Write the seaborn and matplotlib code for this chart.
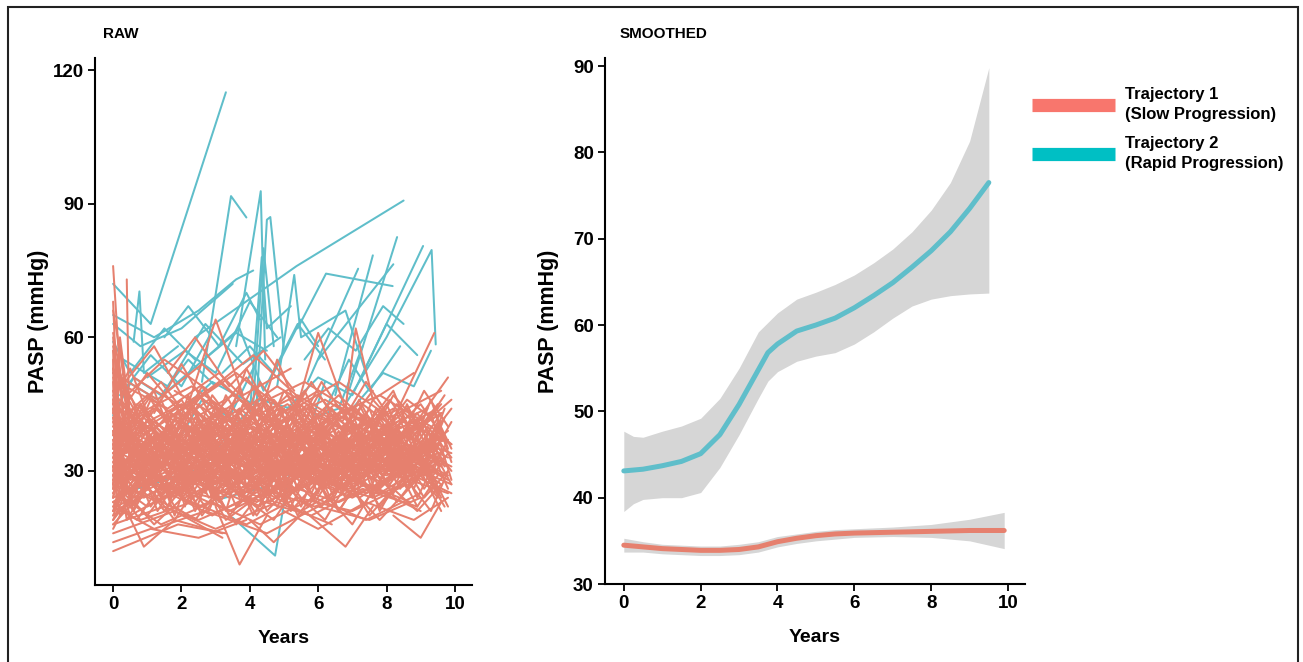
import pandas as pd
import seaborn as sns
import matplotlib
matplotlib.use("Agg")
import matplotlib.pyplot as plt
from matplotlib.lines import Line2D
from matplotlib.patches import Rectangle

# --- raw trajectories (years, PASP) ---
slow_patients = [
    [(0, 76), (0.3, 40), (1.2, 33), (2.5, 38), (4.1, 30)],
    [(0, 68), (0.2, 30), (1.5, 26), (3.0, 34), (4.6, 29), (6.2, 36)],
    [(0.4, 73), (0.5, 28), (1.8, 31), (3.2, 27)],
    [(0, 61), (0.6, 35), (2.1, 40), (3.8, 33), (5.5, 38), (7.2, 31)],
    [(0, 55), (0.1, 22), (1.3, 27), (2.9, 24), (4.4, 31), (6.0, 28), (7.9, 33)],
    [(0, 48), (0.9, 38), (2.2, 45), (3.6, 36), (5.1, 42), (6.8, 35), (8.4, 40)],
    [(0, 42), (1.1, 30), (2.4, 36), (4.0, 29), (5.7, 34), (7.4, 30), (9.1, 37)],
    [(0, 38), (0.7, 45), (2.0, 33), (3.3, 39), (4.9, 31), (6.5, 37), (8.1, 32), (9.6, 38)],
    [(0, 35), (1.4, 25), (2.8, 30), (4.2, 22), (5.9, 28), (7.6, 24), (9.3, 30)],
    [(0, 32), (0.5, 20), (1.9, 26), (3.4, 21), (5.0, 27), (6.6, 23), (8.3, 29), (9.8, 25)],
    [(0, 29), (1.0, 36), (2.6, 28), (4.3, 35), (6.1, 30), (7.8, 37), (9.5, 33)],
    [(0, 27), (0.8, 19), (2.3, 23), (3.9, 18), (5.4, 24), (7.0, 21), (8.6, 27)],
    [(0, 24), (1.6, 30), (3.1, 25), (4.7, 32), (6.3, 27), (8.0, 33), (9.7, 29)],
    [(0, 22), (1.2, 17), (2.7, 21), (4.5, 16), (6.0, 22), (7.5, 19), (9.0, 24)],
    [(0, 20), (0.9, 25), (2.5, 19), (4.0, 24), (5.8, 20), (7.3, 26), (8.9, 22)],
    [(0, 18), (1.5, 22), (3.0, 17), (4.8, 23), (6.4, 18)],
    [(0, 16), (1.8, 21), (3.2, 15)],
    [(0, 12), (1.9, 18), (3.3, 16)],
    [(0, 45), (0.2, 58), (0.6, 30), (1.7, 37), (3.0, 32)],
    [(0, 58), (0.3, 44), (1.0, 52), (2.2, 41), (3.5, 47), (5.0, 40)],
    [(0, 52), (1.3, 46), (2.6, 54), (4.0, 44), (5.6, 50), (7.1, 43)],
    [(0, 44), (0.4, 36), (1.7, 42), (3.1, 50), (4.6, 40), (6.2, 46), (7.7, 39), (9.2, 44)],
    [(0, 40), (1.0, 47), (2.4, 39), (3.7, 46), (5.3, 37), (6.9, 44), (8.5, 38)],
    [(0, 37), (0.6, 28), (2.0, 35), (3.5, 27), (5.1, 33), (6.7, 28), (8.2, 35), (9.8, 31)],
    [(0, 34), (1.2, 41), (2.7, 33), (4.1, 40), (5.6, 31), (7.2, 38), (8.8, 33)],
    [(0, 31), (0.9, 24), (2.3, 30), (3.8, 25), (5.3, 31), (6.9, 26), (8.4, 32), (9.9, 27)],
    [(0, 28), (1.5, 34), (3.0, 26), (4.4, 33), (6.0, 27), (7.5, 34), (9.1, 29)],
    [(0, 26), (0.7, 31), (2.1, 24), (3.6, 30), (5.2, 25), (6.8, 31), (8.3, 26), (9.7, 33)],
    [(0, 23), (1.1, 28), (2.5, 22), (4.0, 27), (5.5, 21), (7.1, 28), (8.7, 23)],
    [(0, 21), (1.4, 26), (2.9, 20), (4.4, 26), (5.9, 22), (7.4, 27), (9.0, 21)],
    [(0.1, 50), (1.6, 44), (3.1, 52), (4.5, 41), (6.0, 48)],
    [(0.2, 46), (1.0, 40), (2.5, 47), (3.9, 38), (5.4, 45), (6.9, 39), (8.4, 44)],
    [(0.3, 39), (1.7, 33), (3.2, 40), (4.7, 34), (6.2, 41), (7.8, 36), (9.3, 42)],
    [(0.1, 33), (1.3, 38), (2.8, 31), (4.3, 37), (5.8, 32), (7.3, 38), (8.9, 34), (9.8, 39)],
    [(0.2, 30), (1.8, 35), (3.3, 29), (4.8, 36), (6.3, 30), (7.9, 35), (9.4, 30)],
    [(0.1, 27), (1.0, 22), (2.4, 28), (3.9, 23), (5.4, 29), (7.0, 24), (8.5, 30), (9.9, 25)],
    [(0.3, 25), (1.9, 30), (3.4, 24), (5.0, 31), (6.5, 26), (8.1, 32)],
    [(0.2, 35), (0.8, 43), (2.2, 36), (3.7, 44), (5.2, 35), (6.7, 42), (8.2, 36), (9.6, 43)],
    [(0, 36), (1.1, 32), (2.6, 38), (4.1, 33), (5.7, 39), (7.3, 34), (8.8, 40)],
    [(0, 33), (1.7, 28), (3.2, 34), (4.8, 29), (6.4, 35), (8.0, 30), (9.5, 36)],
    [(0, 30), (0.6, 37), (2.0, 30), (3.5, 37), (5.0, 30), (6.6, 38), (8.1, 31), (9.7, 37)],
    [(0, 28), (1.3, 23), (2.8, 29), (4.3, 24), (5.8, 30), (7.4, 25), (8.9, 31)],
    [(0, 25), (0.5, 32), (1.9, 26), (3.4, 33), (4.9, 27), (6.5, 33), (8.0, 28), (9.5, 34)],
    [(0, 34), (0.9, 29), (2.3, 36), (3.8, 31), (5.3, 38), (6.8, 32), (8.3, 39), (9.8, 33)],
    [(0, 41), (1.5, 35), (3.0, 43), (4.5, 36), (6.0, 42), (7.6, 37), (9.1, 42)],
    [(0, 47), (0.5, 39), (2.0, 45), (3.5, 38), (5.1, 45), (6.6, 37), (8.2, 44)],
    [(0, 53), (0.8, 43), (2.3, 49), (3.8, 41), (5.4, 47), (6.9, 40)],
    [(0, 39), (1.2, 44), (2.7, 37), (4.2, 43), (5.7, 36), (7.2, 42), (8.7, 37), (9.6, 45)],
    [(0, 31), (1.6, 37), (3.1, 32), (4.6, 38), (6.1, 33), (7.7, 39), (9.2, 34)],
    [(0, 29), (0.7, 25), (2.2, 32), (3.7, 26), (5.2, 33), (6.7, 27), (8.3, 34), (9.8, 28)],
    [(1.0, 29), (2.5, 35), (4.0, 28), (5.5, 35), (7.0, 30), (8.6, 36), (9.9, 31)],
    [(1.5, 38), (3.0, 31), (4.5, 39), (6.0, 33), (7.5, 40), (9.0, 34)],
    [(2.0, 27), (3.5, 34), (5.0, 28), (6.5, 34), (8.0, 29), (9.5, 35)],
    [(2.5, 41), (4.0, 34), (5.5, 42), (7.0, 35), (8.5, 41), (9.9, 36)],
    [(3.0, 30), (4.5, 25), (6.0, 32), (7.5, 26), (9.0, 33)],
    [(3.5, 44), (5.0, 36), (6.5, 45), (8.0, 38), (9.5, 44)],
    [(4.0, 26), (5.5, 33), (7.0, 27), (8.5, 34), (9.8, 29)],
    [(0.5, 42), (2.0, 35), (3.5, 42), (5.0, 35), (6.5, 43), (8.0, 36), (9.4, 42)],
    [(1.2, 23), (2.7, 29), (4.2, 23), (5.7, 30), (7.2, 24), (8.7, 31)],
    [(0.8, 34), (2.3, 29), (3.8, 36), (5.3, 30), (6.8, 37), (8.3, 31), (9.7, 38)],
    [(0, 57), (0.4, 47), (1.5, 55), (2.8, 48), (4.1, 56), (5.5, 46)],
    [(0.6, 51), (2.1, 44), (3.6, 52), (5.1, 43), (6.6, 50), (8.1, 42), (9.6, 48)],
    [(1.8, 48), (3.3, 41), (4.8, 49), (6.3, 42), (7.8, 47), (9.3, 40)],
    [(2.2, 45), (3.0, 64), (3.8, 47), (5.2, 53)],
    [(5.3, 42), (6.0, 61), (6.8, 44), (7.1, 62), (7.6, 46), (8.8, 52)],
    [(8.1, 40), (9.4, 61)],
    [(8.6, 38), (9.8, 51)],
    [(3.0, 22), (3.7, 9), (4.5, 20)],
    [(4.0, 19), (4.7, 14), (5.6, 21), (6.8, 13), (7.6, 22)],
    [(8.2, 20), (9.0, 15), (9.6, 23)],
    [(0.4, 21), (0.9, 13), (1.8, 19), (3.2, 16)],
    [(0, 14), (1.1, 17), (2.5, 15), (3.9, 19)],
    [(5.0, 21), (6.0, 17), (7.4, 23), (8.8, 19), (9.8, 24)],
    [(0, 19), (0.3, 24), (1.4, 18), (2.9, 23), (4.3, 18), (5.9, 24), (7.4, 19), (9.0, 25)],
    [(0.1, 37), (0.2, 60), (0.5, 42), (1.4, 50), (2.6, 38)],
    [(0, 43), (0.15, 56), (0.4, 34), (1.1, 46), (2.0, 36)],
    [(0.05, 49), (0.25, 31), (1.3, 38), (2.4, 32)],
    [(0, 26), (0.1, 46), (0.7, 33), (1.9, 42), (3.0, 34)],
    [(4.2, 40), (4.8, 55), (5.6, 40), (6.6, 47), (7.7, 39)],
    [(6.4, 34), (7.2, 46), (8.0, 34), (8.9, 43), (9.7, 33)],
    [(7.0, 28), (7.9, 40), (8.7, 29), (9.5, 41), (9.9, 32)],
    [(6.0, 39), (6.9, 30), (7.8, 42), (8.6, 32), (9.3, 46), (9.8, 35)],
    [(1.2, 43), (2.0, 54), (2.9, 42), (3.9, 51), (4.9, 41)],
    [(3.3, 37), (4.1, 49), (4.9, 38), (5.8, 50), (6.7, 39), (7.6, 48)],
    [(0.3, 28), (1.4, 34), (2.6, 28), (3.9, 35), (5.3, 29), (6.8, 35), (8.1, 30), (9.6, 36)],
    [(0, 23), (1.0, 29), (2.3, 24), (3.6, 30), (5.0, 24), (6.4, 31), (7.8, 25), (9.3, 32)],
    [(0.2, 40), (1.5, 31), (2.9, 39), (4.3, 32), (5.8, 40), (7.3, 32), (8.8, 40)],
    [(0, 45), (1.4, 38), (2.8, 46), (4.2, 37), (5.6, 44)],
    [(2.2, 33), (3.0, 40), (4.1, 31), (5.4, 39), (6.9, 33), (8.4, 38), (9.9, 34)],
    [(1.7, 26), (2.9, 32), (4.3, 27), (5.7, 33), (7.1, 28), (8.5, 33), (9.6, 27)],
    [(9.0, 30), (9.7, 44)],
    [(8.9, 42), (9.8, 26)],
    [(0, 66), (0.35, 50), (1.2, 58), (2.0, 47)],
    [(1.6, 52), (2.4, 60), (3.4, 49), (4.4, 57), (5.3, 48)],
    # patients with frequent echo follow-up
    [(0, 30), (0.4, 44), (0.9, 26), (1.5, 39), (2.1, 22), (2.8, 36), (3.4, 27), (4.0, 41), (4.7, 25), (5.3, 37)],
    [(0, 41), (0.5, 24), (1.1, 35), (1.8, 20), (2.4, 33), (3.0, 45), (3.7, 28), (4.3, 38), (5.0, 23), (5.6, 34), (6.3, 42)],
    [(0, 24), (0.3, 38), (1.0, 43), (1.6, 29), (2.3, 40), (2.9, 25), (3.6, 34), (4.2, 46), (4.9, 31), (5.5, 22), (6.2, 35), (6.9, 28)],
    [(0, 36), (0.6, 21), (1.3, 31), (1.9, 44), (2.6, 30), (3.3, 21), (3.9, 36), (4.6, 28), (5.2, 43), (5.9, 30), (6.6, 39), (7.2, 26), (7.9, 37)],
    [(0, 20), (0.7, 33), (1.4, 24), (2.0, 37), (2.7, 42), (3.4, 30), (4.1, 25), (4.8, 35), (5.5, 29), (6.2, 44), (6.9, 32), (7.6, 24), (8.3, 36)],
    [(0, 44), (0.2, 30), (0.8, 37), (1.5, 31), (2.2, 47), (2.9, 35), (3.6, 39), (4.3, 24), (5.0, 32), (5.7, 38), (6.4, 27), (7.1, 40), (7.8, 33), (8.5, 42)],
    [(0, 33), (0.5, 47), (1.2, 34), (1.9, 27), (2.6, 38), (3.3, 44), (4.0, 31), (4.7, 40), (5.4, 26), (6.1, 36), (6.8, 45), (7.5, 30), (8.2, 38), (8.9, 28), (9.6, 41)],
    [(0.1, 26), (0.8, 40), (1.5, 33), (2.2, 26), (2.9, 42), (3.6, 35), (4.3, 30), (5.0, 44), (5.7, 36), (6.4, 23), (7.1, 34), (7.8, 41), (8.5, 29), (9.2, 37), (9.9, 30)],
    [(0, 39), (0.4, 19), (1.1, 28), (1.8, 35), (2.5, 24), (3.2, 31), (3.9, 42), (4.6, 33), (5.3, 25), (6.0, 37), (6.7, 31), (7.4, 43), (8.1, 35), (8.8, 26), (9.5, 39)],
    [(0, 51), (0.3, 36), (1.0, 29), (1.7, 43), (2.4, 36), (3.1, 28), (3.8, 39), (4.5, 47), (5.2, 34), (5.9, 41), (6.6, 29), (7.3, 36), (8.0, 45), (8.7, 33), (9.4, 38)],
    [(0, 28), (0.6, 35), (1.3, 21), (2.0, 30), (2.7, 25), (3.4, 37), (4.1, 29), (4.8, 22), (5.5, 31), (6.2, 26), (6.9, 35), (7.6, 28), (8.3, 40), (9.0, 31), (9.7, 22)],
    [(0, 35), (0.2, 52), (0.7, 38), (1.4, 46), (2.1, 34), (2.8, 41), (3.5, 33), (4.2, 45), (4.9, 38), (5.6, 48), (6.3, 37), (7.0, 32), (7.7, 44), (8.4, 37), (9.1, 48), (9.8, 40)],
    [(0, 22), (0.5, 29), (1.2, 38), (1.9, 31), (2.6, 20), (3.3, 27), (4.0, 35), (4.7, 26), (5.4, 40), (6.1, 33), (6.8, 24), (7.5, 31), (8.2, 25), (8.9, 34), (9.6, 29)],
    [(0, 46), (0.4, 28), (1.0, 35), (1.6, 40), (2.3, 29), (3.0, 36), (3.7, 24), (4.4, 33), (5.1, 38), (5.8, 27), (6.5, 33), (7.2, 38), (7.9, 31), (8.6, 45), (9.3, 33), (9.9, 41)],
    [(0, 31), (0.9, 42), (1.6, 36), (2.3, 45), (3.0, 38), (3.7, 48), (4.4, 37), (5.1, 29), (5.8, 35), (6.5, 41), (7.2, 45), (7.9, 34), (8.6, 39), (9.3, 30)],
    [(0, 37), (0.3, 25), (1.0, 20), (1.7, 27), (2.4, 32), (3.1, 23), (3.8, 29), (4.5, 36), (5.2, 21), (5.9, 27), (6.6, 33), (7.3, 22), (8.0, 30), (8.7, 38), (9.4, 27)],
    [(0, 60), (0.2, 41), (0.6, 33), (1.3, 40), (2.0, 46), (2.7, 37), (3.4, 31), (4.1, 39), (4.8, 44), (5.5, 36), (6.2, 30), (6.9, 40), (7.6, 35), (8.3, 45), (9.0, 39), (9.7, 47)],
    [(0, 17), (0.6, 26), (1.3, 32), (2.0, 25), (2.7, 30), (3.4, 20), (4.1, 26), (4.8, 31), (5.5, 24), (6.2, 19), (6.9, 28), (7.6, 33), (8.3, 23), (9.0, 29), (9.7, 35)],
    [(0, 48), (0.5, 33), (1.2, 45), (1.9, 39), (2.6, 49), (3.3, 41), (4.0, 35), (4.7, 46), (5.4, 40), (6.1, 50), (6.8, 42), (7.5, 37), (8.2, 47), (8.9, 41)],
    [(0, 27), (0.3, 43), (0.9, 31), (1.6, 22), (2.3, 35), (3.0, 30), (3.7, 41), (4.4, 27), (5.1, 32), (5.8, 44), (6.5, 28), (7.2, 35), (7.9, 27), (8.6, 33), (9.3, 43), (9.9, 28)],
    [(0.2, 33), (0.9, 25), (1.6, 41), (2.3, 31), (3.0, 27), (3.7, 38), (4.4, 45), (5.1, 33), (5.8, 25), (6.5, 36), (7.2, 29), (7.9, 39), (8.6, 44), (9.3, 36)],
    [(0, 40), (0.7, 31), (1.4, 37), (2.1, 27), (2.8, 34), (3.5, 40), (4.2, 35), (4.9, 26), (5.6, 39), (6.3, 34), (7.0, 43), (7.7, 29), (8.4, 35), (9.1, 26), (9.8, 34)],
    [(0, 53), (0.2, 37), (0.8, 45), (1.5, 35), (2.2, 29), (2.9, 43), (3.6, 37), (4.3, 50), (5.0, 42), (5.7, 33), (6.4, 44), (7.1, 37), (7.8, 30), (8.5, 39), (9.2, 35)],
    [(0, 29), (0.4, 22), (1.1, 33), (1.8, 28), (2.5, 38), (3.2, 33), (3.9, 23), (4.6, 30), (5.3, 36), (6.0, 25), (6.7, 38), (7.4, 33), (8.1, 27), (8.8, 35), (9.5, 25)],
    [(0, 43), (0.6, 38), (1.3, 28), (2.0, 41), (2.7, 48), (3.4, 36), (4.1, 43), (4.8, 30), (5.5, 45), (6.2, 38), (6.9, 34), (7.6, 46), (8.3, 40), (9.0, 45), (9.7, 37)],
    [(0, 25), (0.8, 36), (1.5, 28), (2.2, 23), (2.9, 28), (3.6, 39), (4.3, 34), (5.0, 27), (5.7, 22), (6.4, 30), (7.1, 37), (7.8, 26), (8.5, 31), (9.2, 40), (9.9, 33)],
    [(0, 57), (0.1, 33), (0.5, 27), (1.2, 34), (1.9, 43), (2.6, 33), (3.3, 47), (4.0, 38), (4.7, 34), (5.4, 41), (6.1, 35), (6.8, 26), (7.5, 42), (8.2, 32), (8.9, 36), (9.6, 31)],
    [(0, 34), (0.5, 40), (1.2, 48), (1.9, 34), (2.6, 27), (3.3, 35), (4.0, 31), (4.7, 38), (5.4, 46), (6.1, 27), (6.8, 34), (7.5, 41), (8.2, 48), (8.9, 35), (9.6, 43)],
    [(0, 21), (0.4, 31), (1.0, 27), (1.7, 35), (2.4, 21), (3.1, 34), (3.8, 27), (4.5, 38), (5.2, 29), (5.9, 35), (6.6, 21), (7.3, 29), (8.0, 36), (8.7, 27), (9.4, 33)],
    [(0, 38), (0.3, 48), (0.9, 40), (1.6, 33), (2.3, 44), (3.0, 35), (3.7, 31), (4.4, 42), (5.1, 47), (5.8, 37), (6.5, 42), (7.2, 33), (7.9, 39), (8.6, 46), (9.3, 42), (9.9, 46)],
    [(0, 31), (0.2, 20), (0.8, 24), (1.5, 36), (2.2, 28), (2.9, 33), (3.6, 25), (4.3, 22), (5.0, 34), (5.7, 28), (6.4, 37), (7.1, 31), (7.8, 22), (8.5, 28), (9.2, 31), (9.8, 22)],
    [(0, 46), (0.5, 53), (1.1, 41), (1.8, 36), (2.5, 45), (3.2, 38), (3.9, 53), (4.6, 43), (5.3, 37), (6.0, 47), (6.7, 41), (7.4, 50), (8.1, 42)],
    [(0, 23), (0.7, 19), (1.4, 27), (2.1, 35), (2.8, 24), (3.5, 29), (4.2, 20), (4.9, 28), (5.6, 33), (6.3, 24), (7.0, 18), (7.7, 27), (8.4, 33), (9.1, 24), (9.8, 30)],
    [(0, 42), (0.3, 31), (1.0, 39), (1.7, 30), (2.4, 42), (3.1, 33), (3.8, 45), (4.5, 38), (5.2, 32), (5.9, 40), (6.6, 35), (7.3, 45), (8.0, 41), (8.7, 30), (9.4, 36)],
    [(0, 35), (0.9, 31), (1.6, 26), (2.3, 37), (3.0, 32), (3.7, 44), (4.4, 29), (5.1, 40), (5.8, 32), (6.5, 27), (7.2, 33), (7.9, 36), (8.6, 26), (9.3, 40), (9.9, 36)],
    [(0, 27), (0.6, 42), (1.3, 35), (2.0, 31), (2.7, 37), (3.4, 26), (4.1, 33), (4.8, 41), (5.5, 33), (6.2, 40), (6.9, 27), (7.6, 38), (8.3, 33), (9.0, 42), (9.7, 31)],
    [(0, 50), (0.1, 28), (0.4, 36), (1.1, 30), (1.8, 24), (2.5, 33), (3.2, 38), (3.9, 30), (4.6, 23), (5.3, 28), (6.0, 35), (6.7, 25), (7.4, 32), (8.1, 38), (8.8, 31), (9.5, 24)],
    [(0, 32), (0.8, 45), (1.5, 39), (2.2, 33), (2.9, 47), (3.6, 40), (4.3, 35), (5.0, 48), (5.7, 42), (6.4, 33), (7.1, 44), (7.8, 38), (8.5, 42), (9.2, 34)],
    [(0, 19), (0.5, 24), (1.2, 18), (1.9, 23), (2.6, 29), (3.3, 19), (4.0, 23), (4.7, 19), (5.4, 27), (6.1, 22), (6.8, 29), (7.5, 20), (8.2, 26), (8.9, 21), (9.6, 27)],
    [(0, 44), (0.4, 38), (1.1, 31), (1.8, 39), (2.5, 34), (3.2, 42), (3.9, 35), (4.6, 31), (5.3, 42), (6.0, 36), (6.7, 31), (7.4, 39), (8.1, 46), (8.8, 38), (9.5, 45)],
    [(0, 26), (0.5, 33), (1.1, 22), (1.7, 29), (2.3, 36), (2.9, 24), (3.5, 30), (4.1, 20), (4.7, 28), (5.3, 34), (5.9, 23), (6.5, 30), (7.1, 37), (7.7, 25), (8.3, 31), (8.9, 22), (9.5, 29)],
    [(0, 33), (0.4, 25), (1.0, 31), (1.6, 38), (2.2, 27), (2.8, 21), (3.4, 32), (4.0, 37), (4.6, 27), (5.2, 22), (5.8, 31), (6.4, 36), (7.0, 26), (7.6, 32), (8.2, 39), (8.8, 28), (9.4, 34), (9.9, 27)],
    [(0, 39), (0.3, 27), (0.9, 34), (1.5, 26), (2.1, 31), (2.7, 40), (3.3, 34), (3.9, 26), (4.5, 40), (5.1, 30), (5.7, 37), (6.3, 29), (6.9, 41), (7.5, 33), (8.1, 29), (8.7, 38), (9.3, 29), (9.8, 37)],
    [(0, 21), (0.6, 28), (1.2, 25), (1.8, 19), (2.4, 26), (3.0, 33), (3.6, 22), (4.2, 29), (4.8, 24), (5.4, 32), (6.0, 27), (6.6, 21), (7.2, 28), (7.8, 34), (8.4, 26), (9.0, 33), (9.6, 24)],
    [(0, 42), (0.2, 33), (0.7, 41), (1.3, 35), (1.9, 29), (2.5, 42), (3.1, 35), (3.7, 27), (4.3, 36), (4.9, 44), (5.5, 32), (6.1, 38), (6.7, 44), (7.3, 36), (7.9, 43), (8.5, 35), (9.1, 31), (9.7, 42)],
    [(0, 29), (0.5, 39), (1.1, 32), (1.7, 24), (2.3, 31), (2.9, 38), (3.5, 26), (4.1, 33), (4.7, 42), (5.3, 29), (5.9, 24), (6.5, 35), (7.1, 31), (7.7, 39), (8.3, 34), (8.9, 24), (9.5, 33)],
    [(0, 36), (0.4, 30), (1.0, 26), (1.6, 34), (2.2, 40), (2.8, 31), (3.4, 37), (4.0, 25), (4.6, 33), (5.2, 39), (5.8, 34), (6.4, 40), (7.0, 29), (7.6, 36), (8.2, 30), (8.8, 37), (9.4, 43), (9.9, 35)],
    [(0, 24), (0.3, 33), (0.9, 28), (1.5, 21), (2.1, 27), (2.7, 32), (3.3, 25), (3.9, 31), (4.5, 21), (5.1, 26), (5.7, 33), (6.3, 23), (6.9, 30), (7.5, 26), (8.1, 34), (8.7, 27), (9.3, 21), (9.8, 30)],
    [(0, 31), (0.6, 24), (1.2, 36), (1.8, 30), (2.4, 23), (3.0, 29), (3.6, 36), (4.2, 31), (4.8, 37), (5.4, 26), (6.0, 32), (6.6, 28), (7.2, 34), (7.8, 21), (8.4, 29), (9.0, 36), (9.6, 31)],
    [(0, 45), (0.3, 38), (0.9, 30), (1.5, 37), (2.1, 43), (2.7, 36), (3.3, 29), (3.9, 39), (4.5, 33), (5.1, 41), (5.7, 45), (6.3, 33), (6.9, 37), (7.5, 44), (8.1, 32), (8.7, 41), (9.3, 38), (9.9, 44)],
    [(0, 18), (0.6, 23), (1.2, 30), (1.8, 22), (2.4, 19), (3.0, 25), (3.6, 18), (4.2, 24), (4.8, 30), (5.4, 20), (6.0, 26), (6.6, 31), (7.2, 24), (7.8, 19), (8.4, 24), (9.0, 30), (9.6, 21)],
    [(0, 34), (0.5, 28), (1.1, 40), (1.7, 33), (2.3, 38), (2.9, 28), (3.5, 41), (4.1, 35), (4.7, 30), (5.3, 35), (5.9, 42), (6.5, 31), (7.1, 38), (7.7, 32), (8.3, 43), (8.9, 33), (9.5, 38)],
]

rapid_patients = [
    [(0, 72), (1.1, 63), (3.3, 115)],
    [(2.6, 50), (3.45, 91.7), (3.9, 86.9)],
    [(3.6, 58), (4.32, 92.8), (4.45, 55)],
    [(4.2, 45), (4.5, 86.4), (4.6, 87), (5.0, 57)],
    [(2.4, 60), (5.37, 76), (8.5, 90.7)],
    [(6.8, 45), (8.0, 60), (9.32, 79.6), (9.44, 58.4)],
    [(7.2, 50), (9.07, 80.5)],
    [(6.9, 48), (8.31, 82.5)],
    [(6.0, 55), (8.2, 76.4)],
    [(6.5, 47), (7.6, 78.4)],
    [(5.4, 62), (6.23, 74.3), (8.18, 71.5)],
    [(5.7, 50), (7.17, 75.4)],
    [(0, 65), (1.2, 60), (2.5, 66), (3.6, 73), (4.1, 75)],
    [(0, 63), (0.8, 58), (2.0, 62), (3.5, 72)],
    [(0.6, 59), (0.77, 70.3), (0.9, 52), (1.9, 58)],
    [(0, 42.5), (0.6, 51), (1.4, 47), (2.2, 55), (3.0, 49)],
    [(0.58, 25.7), (2.63, 30.7), (3.5, 39.8), (4.3, 46), (5.2, 44)],
    [(3.03, 23.5), (4.5, 26.5), (5.27, 34), (5.85, 42), (6.6, 44), (7.3, 58)],
    [(3.5, 19.5), (4.74, 11), (5.27, 34.7), (5.85, 42), (6.2, 50)],
    [(0.3, 55), (1.6, 49), (2.7, 63), (3.8, 54), (4.9, 60)],
    [(1.0, 51), (2.1, 57), (3.0, 52), (4.0, 68), (4.8, 60)],
    [(1.9, 43), (2.9, 50), (4.1, 45), (4.4, 80), (4.7, 58)],
    [(2.8, 56), (3.7, 62), (4.4, 48), (5.4, 63), (6.2, 55)],
    [(4.8, 49), (5.3, 74), (5.5, 60), (6.8, 66), (7.4, 52)],
    [(5.1, 44), (6.0, 51), (7.0, 47), (8.0, 63), (8.9, 56)],
    [(0, 52), (1.3, 46), (2.5, 54), (3.6, 61), (4.5, 57)],
    [(1.5, 60), (2.2, 67), (3.1, 58), (3.9, 70), (4.3, 64)],
    [(0.2, 47), (1.1, 56), (2.0, 49), (2.8, 60)],
    [(4.0, 43), (4.35, 78), (4.5, 62), (5.2, 67)],
    [(6.1, 42), (6.9, 55), (7.5, 48), (8.4, 58)],
    [(3.2, 52), (4.0, 58), (4.7, 52), (5.5, 64), (6.0, 58)],
    [(2.0, 38), (2.6, 46), (3.4, 42), (4.1, 53)],
    [(7.0, 44), (7.9, 52), (8.8, 49), (9.3, 57)],
    [(5.6, 55), (6.3, 62), (7.1, 57), (7.9, 67), (8.5, 63)],
    [(0, 59), (0.5, 52), (1.5, 62), (2.4, 55)],
]

# --- smoothed curves and confidence bands ---
rapid_x = [0, 0.25, 0.5, 1.0, 1.5, 2.0, 2.5, 3.0, 3.5, 3.75, 4.0, 4.5, 5.0, 5.5,
           6.0, 6.5, 7.0, 7.5, 8.0, 8.5, 9.0, 9.5]
rapid_fit = [43.1, 43.2, 43.3, 43.7, 44.2, 45.1, 47.3, 50.8, 54.8, 56.8, 57.8, 59.3,
             60.0, 60.8, 62.0, 63.4, 64.9, 66.7, 68.6, 70.8, 73.5, 76.5]
rapid_hi = [47.7, 47.1, 47.0, 47.7, 48.3, 49.2, 51.5, 55.0, 59.2, 60.3, 61.4, 63.0,
            63.8, 64.7, 65.8, 67.2, 68.8, 70.8, 73.3, 76.5, 81.3, 89.8]
rapid_lo = [38.4, 39.3, 39.8, 40.0, 40.0, 40.6, 43.5, 47.3, 51.5, 53.5, 54.6, 55.8,
            56.4, 56.8, 57.8, 59.2, 60.8, 62.2, 63.0, 63.4, 63.6, 63.7]

slow_x = [0, 0.5, 1.0, 1.5, 2.0, 2.5, 3.0, 3.5, 4.0, 4.5, 5.0, 5.5, 6.0, 7.0, 8.0, 9.0, 9.9]
slow_fit = [34.5, 34.3, 34.1, 34.0, 33.9, 33.9, 34.0, 34.3, 34.9, 35.3, 35.6, 35.8,
            35.9, 36.0, 36.1, 36.2, 36.2]
slow_hi = [35.3, 34.9, 34.6, 34.5, 34.4, 34.4, 34.6, 34.9, 35.5, 35.8, 36.1, 36.3,
           36.4, 36.6, 36.9, 37.5, 38.3]
slow_lo = [33.7, 33.7, 33.5, 33.4, 33.3, 33.3, 33.4, 33.7, 34.3, 34.7, 35.0, 35.2,
           35.4, 35.5, 35.4, 35.0, 34.1]

groups = ["Trajectory 1\n(Slow Progression)", "Trajectory 2\n(Rapid Progression)"]
line_cols = {groups[0]: "#E6806E", groups[1]: "#5FBECA"}
key_cols = ["#F8766D", "#00BFC4"]

rows = []
for pid, pts in enumerate(rapid_patients):
    for t, v in pts:
        rows.append(("r%d" % pid, groups[1], t, v))
for pid, pts in enumerate(slow_patients):
    for t, v in pts:
        rows.append(("s%d" % pid, groups[0], t, v))
raw = pd.DataFrame(rows, columns=["pid", "group", "years", "pasp"])

smooth = pd.concat([
    pd.DataFrame({"group": groups[0], "years": slow_x, "fit": slow_fit, "lo": slow_lo, "hi": slow_hi}),
    pd.DataFrame({"group": groups[1], "years": rapid_x, "fit": rapid_fit, "lo": rapid_lo, "hi": rapid_hi}),
])

sns.set_style("ticks")
plt.rcParams["font.family"] = ["Liberation Sans", "DejaVu Sans"]
plt.rcParams["font.weight"] = "bold"
for k in ("text.color", "axes.labelcolor", "xtick.color", "ytick.color", "axes.edgecolor"):
    plt.rcParams[k] = "black"

fig = plt.figure(figsize=(13.03, 6.62), dpi=100)
ax1 = fig.add_axes([0.0729, 0.1163, 0.2893, 0.7961])
ax2 = fig.add_axes([0.4643, 0.1178, 0.3223, 0.7946])

sns.lineplot(data=raw, x="years", y="pasp", hue="group", units="pid", estimator=None,
             sort=False, hue_order=[groups[1], groups[0]], palette=line_cols,
             linewidth=1.45, legend=False, ax=ax1)

for g in groups:
    d = smooth[smooth.group == g]
    ax2.fill_between(d.years, d.lo, d.hi, color="#D6D6D6", lw=0)
sns.lineplot(data=smooth, x="years", y="fit", hue="group", palette=line_cols,
             linewidth=3.6, legend=False, ax=ax2)

ax1.set_xlim(-0.53, 10.5)
ax1.set_ylim(4.4, 122.7)
ax1.set_yticks([30, 60, 90, 120])
ax2.set_xlim(-0.49, 10.44)
ax2.set_ylim(30, 90.93)
ax2.set_yticks([30, 40, 50, 60, 70, 80, 90])

for ax in (ax1, ax2):
    ax.set_xticks([0, 2, 4, 6, 8, 10])
    sns.despine(ax=ax)
    for s in ("left", "bottom"):
        ax.spines[s].set_linewidth(1.5)
    ax.tick_params(length=5, width=1.3, labelsize=13.5, pad=3)
    for lab in ax.get_xticklabels() + ax.get_yticklabels():
        lab.set_fontweight("bold")
    ax.set_xlabel("Years", fontsize=14, fontweight="bold")
    ax.set_ylabel("PASP (mmHg)", fontsize=15.5, fontweight="bold")

ax1.xaxis.set_label_coords(0.5, -0.086)
ax2.xaxis.set_label_coords(0.5, -0.086)
ax1.yaxis.set_label_coords((49 - 95) / 377, 0.5)
ax2.yaxis.set_label_coords((559 - 605) / 420, 0.5)

fig.text(103 / 1303, 1 - 34 / 662, "RAW", fontsize=11, fontweight="bold", va="center")
fig.text(620 / 1303, 1 - 34 / 662, "SMOOTHED", fontsize=11, fontweight="bold", va="center")

handles = [Line2D([], [], color=c, lw=9.5, solid_capstyle="butt") for c in key_cols]
leg = fig.legend(handles, groups, loc="upper left", bbox_to_anchor=(1017 / 1303, 1 - 72 / 662),
                 frameon=False, handlelength=5.0, handletextpad=0.6, labelspacing=0.8,
                 prop={"size": 12, "weight": "bold"})
for t in leg.get_texts():
    t.set_linespacing(1.45)

fig.patches.append(Rectangle((8 / 1303, -0.05), 1290 / 1303, 1.05 - 7 / 662, fill=False,
                             lw=1.5, edgecolor="#222222", transform=fig.transFigure))

fig.savefig("out.png", dpi=100)
